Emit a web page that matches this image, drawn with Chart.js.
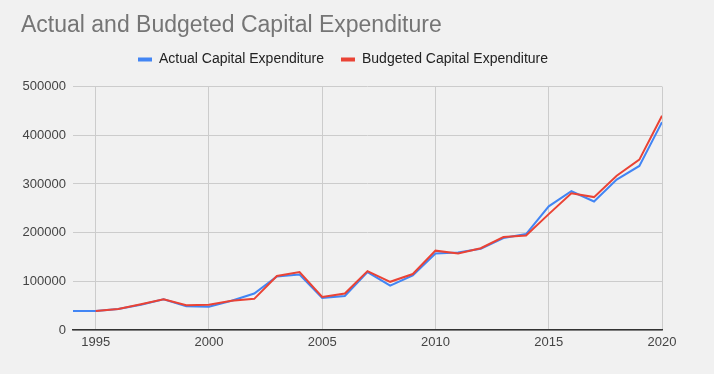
<!DOCTYPE html>
<html>
<head>
<meta charset="utf-8">
<script src="https://cdn.jsdelivr.net/npm/chart.js@4/dist/chart.umd.min.js"></script>
<style>
html,body{margin:0;padding:0;background:#f1f1f1;}
#wrap{width:714px;height:374px;position:relative;}
</style>
</head>
<body>
<div id="wrap"><canvas id="c" width="714" height="374"></canvas></div>
<script>
const years = [1994,1995,1996,1997,1998,1999,2000,2001,2002,2003,2004,2005,2006,2007,2008,2009,2010,2011,2012,2013,2014,2015,2016,2017,2018,2019,2020];
const actualCapex = [39000,39000,43000,52000,63000,49000,48000,60000,75000,110000,114000,66000,70000,119000,91000,112000,157000,159000,167000,189000,197000,254000,285000,264000,309000,337000,427000];
const budgetedCapex = [null,39000,43000,53000,63000,51000,52000,60000,64000,111000,119000,68000,75000,121000,99000,115000,163000,157000,168000,191000,194000,238000,281000,273000,317000,350000,440000];
const xTicks = [1995,2000,2005,2010,2015,2020];
const yTicks = [0,100000,200000,300000,400000,500000];
const titleText = 'Actual and Budgeted Capital Expenditure';
const seriesNames = ['Actual Capital Expenditure','Budgeted Capital Expenditure'];

const toPts = arr => years.map((y,i)=>({x:y,y:arr[i]}));
const FONT = "'Liberation Sans', Arial, sans-serif";
const LEG_PAD = 17;

const placeBoxes = {
  id:'placeBoxes',
  afterLayout(chart){
    const t = chart.titleBlock;
    if (t){ t.left = 21; }
    const l = chart.legend;
    if (l){
      const w = l.right - l.left, h = l.bottom - l.top;
      l.left = 138 - LEG_PAD; l.right = l.left + w;
      l.top = 52.5 - LEG_PAD; l.bottom = l.top + h;
    }
  }
};

new Chart(document.getElementById('c'), {
  type: 'line',
  data: {
    datasets: [
      {label: seriesNames[0], data: toPts(actualCapex), borderColor:'#4285F4', backgroundColor:'#4285F4', borderWidth:2, pointRadius:0, tension:0, order:1},
      {label: seriesNames[1], data: toPts(budgetedCapex), borderColor:'#EA4335', backgroundColor:'#EA4335', borderWidth:2, pointRadius:0, tension:0, order:0, spanGaps:false}
    ]
  },
  plugins:[placeBoxes],
  options: {
    responsive:false,
    animation:false,
    layout:{padding:{left:0,right:52,top:0,bottom:0}},
    plugins:{
      title:{display:true,text:titleText,align:'start',color:'#757575',font:{family:FONT,size:23,weight:'normal'},padding:{top:12,bottom:6}},
      legend:{display:true,position:'top',align:'start',
        labels:{boxWidth:14,boxHeight:4,padding:LEG_PAD,color:'#222',font:{family:FONT,size:14},
          sort:(a,b)=>a.datasetIndex-b.datasetIndex,
          generateLabels:(chart)=>Chart.defaults.plugins.legend.labels.generateLabels(chart).map(it=>Object.assign(it,{lineWidth:0}))
        }},
      tooltip:{enabled:false}
    },
    scales:{
      x:{type:'linear',min:1994,max:2020,
        afterBuildTicks:s=>{s.ticks=xTicks.map(v=>({value:v}));},
        afterFit:s=>{s.height=44;},
        grid:{color:'#cccccc',drawTicks:false,lineWidth:1},
        border:{display:true,color:'#333333',width:1.5},
        ticks:{color:'#444',font:{family:FONT,size:13},padding:5,maxRotation:0,autoSkip:false,callback:v=>String(v)}
      },
      y:{min:0,max:500000,
        afterBuildTicks:s=>{s.ticks=yTicks.map(v=>({value:v}));},
        afterFit:s=>{s.width=73;},
        grid:{color:'#cccccc',drawTicks:false,lineWidth:1},
        border:{display:false},
        ticks:{color:'#444',font:{family:FONT,size:13},padding:7,callback:v=>String(v)}
      }
    }
  }
});
</script>
</body>
</html>
